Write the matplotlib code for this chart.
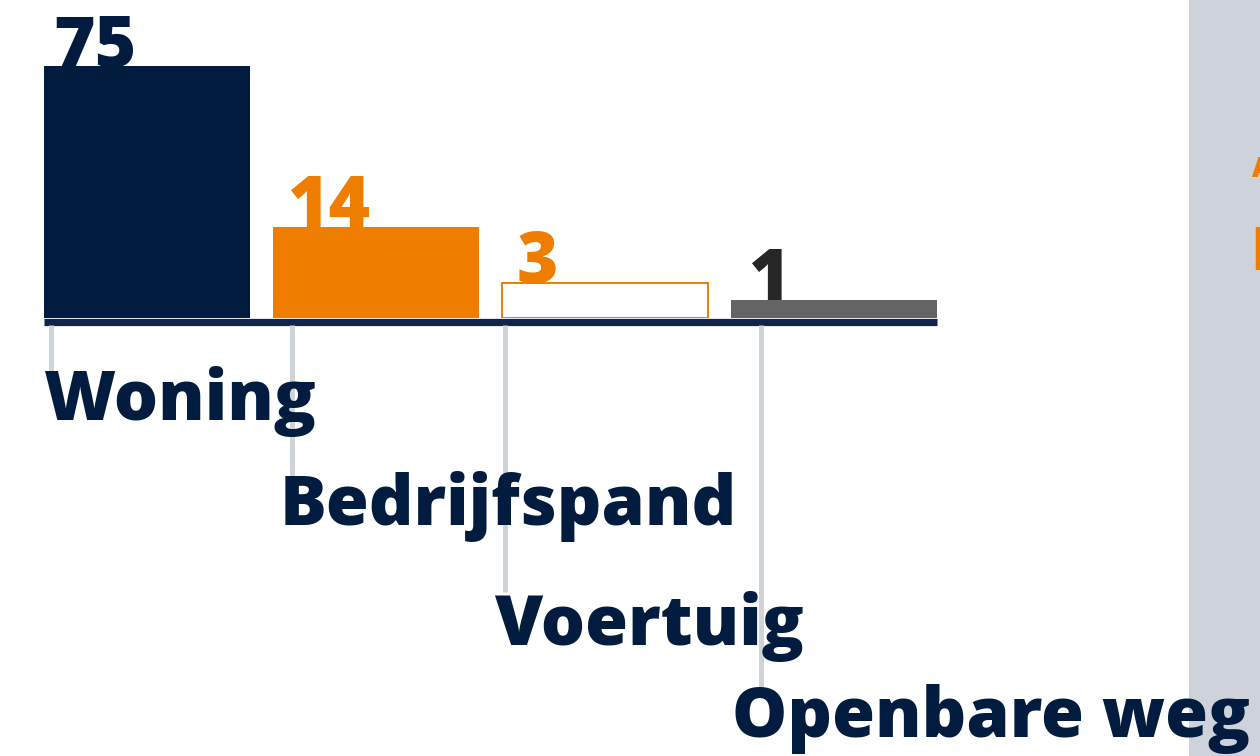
import numpy as np
import matplotlib
matplotlib.use("Agg")
from matplotlib import pyplot as plt
from matplotlib import transforms

categories = ["Woning", "Bedrijfspand", "Voertuig", "Openbare weg"]
values = [75, 14, 3, 1]

NAVY = "#011c3f"
ORANGE = "#ee7d00"
GREY = "#646462"
LINE = "#cfd4db"
PANEL = "#cdd2db"

plt.rcParams["font.family"] = ["Open Sans", "DejaVu Sans"]

W, H = 1260, 756
fig = plt.figure(figsize=(W / 100, H / 100), dpi=100)
fig.patch.set_facecolor("white")

# grey side panel
panel = fig.add_axes([1189 / W, 0, (W - 1189) / W, 1])
panel.set_facecolor(PANEL)
panel.set_axis_off()
panel.add_patch(plt.Rectangle((0, 0), 1, 1, color=PANEL, transform=panel.transAxes))
fig.text(1252 / W, 1 - 177 / H, "A", color=ORANGE, fontsize=20, fontweight="extra bold")
fig.text(1250 / W, 1 - 270 / H, "B", color=ORANGE, fontsize=44, fontweight="extra bold")

# bar axes: baseline at y=318px, 75 at y=66px
ax = fig.add_axes([0, 1 - 318 / H, 1, (318 - 66) / H])
ax.set_axis_off()
p = 0.61
ax.set_yscale("function", functions=(lambda v: np.sign(v) * np.abs(v) ** p,
                                     lambda v: np.sign(v) * np.abs(v) ** (1 / p)))
x = np.arange(len(values))
bw = 0.9
ax.set_xlim(-147 / 229, (W - 147) / 229)
ax.set_ylim(0, 75)

fills = [NAVY, ORANGE, "white", GREY]
edges = [NAVY, ORANGE, ORANGE, GREY]
lws = [0, 0, 1.4, 0]
for i in range(len(values)):
    ax.bar(x[i], values[i], width=bw, color=fills[i], edgecolor=edges[i],
           linewidth=lws[i], zorder=2)

# value labels
num_colors = [NAVY, ORANGE, ORANGE, "#262626"]
num_dx = [0.04, 0.06, 0.065, 0.075]
for i, v in enumerate(values):
    ax.text(x[i] - bw / 2 + num_dx[i], v, str(v), color=num_colors[i],
            fontsize=51, fontweight="extra bold", ha="left", va="baseline", zorder=3)

# base line below bars
base_tr = transforms.offset_copy(ax.transData, fig=fig, y=-3.5, units="dots")
ax.plot([x[0] - bw / 2, x[-1] + bw / 2], [0, 0], color="#10244b", lw=5.2,
        solid_capstyle="butt", transform=base_tr, clip_on=False, zorder=4)

# leader lines and category labels (pixel layout)
line_x = [51, 292, 505, 761]
label_x = [44, 280, 494, 732]
label_base = [420, 525, 645, 737]
label_top = [372, 477, 592, 690]
lax = fig.add_axes([0, 0, 1, 1], facecolor="none")
lax.set_xlim(0, W)
lax.set_ylim(H, 0)
lax.set_axis_off()
for i, name in enumerate(categories):
    lax.plot([line_x[i], line_x[i]], [325, label_top[i]], color=LINE, lw=3.6,
             solid_capstyle="butt", zorder=1)
    lax.text(label_x[i], label_base[i], name, color=NAVY, fontsize=50,
             fontweight="extra bold", ha="left", va="baseline", zorder=2)

fig.savefig("out.png", dpi=100, facecolor=fig.get_facecolor())
